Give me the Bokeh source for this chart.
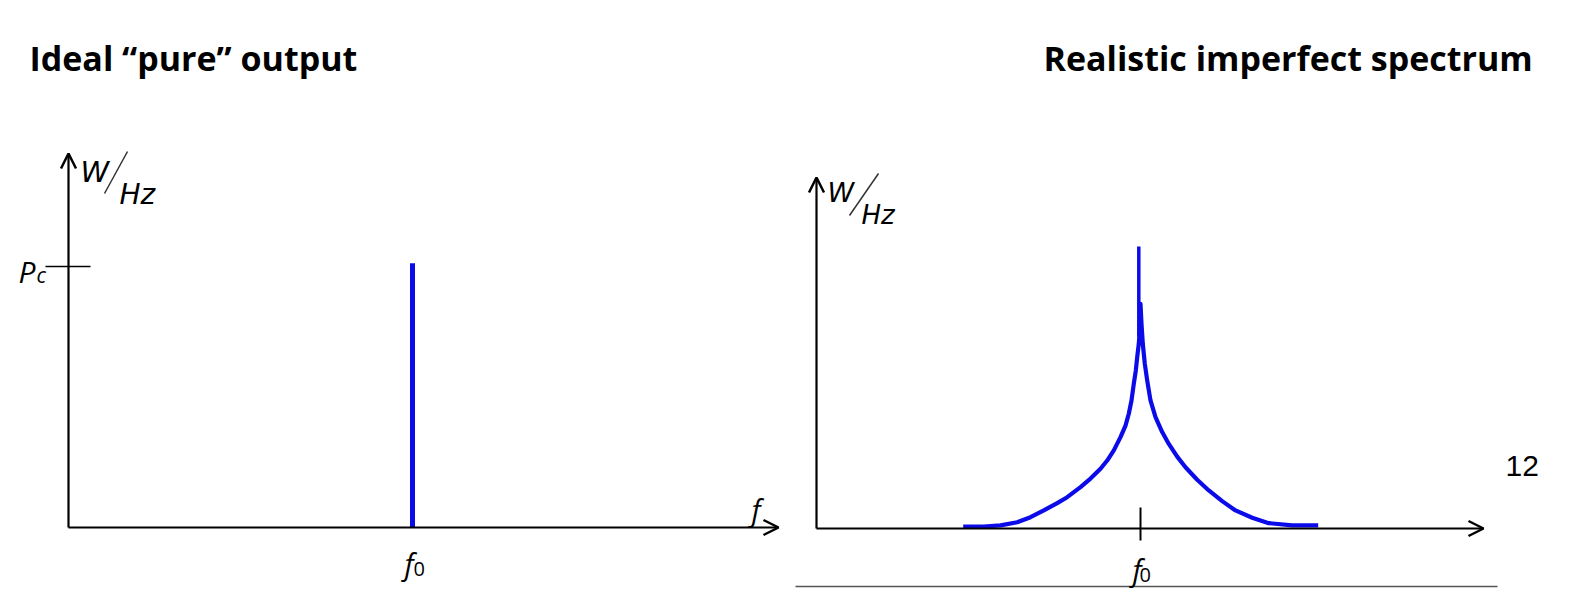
from bokeh.plotting import figure
from bokeh.models import Range1d, Arrow, OpenHead
from bokeh.core.properties import value
from bokeh.embed import file_html
from bokeh.resources import INLINE

# ---------------- data ----------------
titles = ["Ideal \u201cpure\u201d output", "Realistic imperfect spectrum"]
slide_number = "12"

# left panel: ideal single spectral line at f0 with power Pc (normalised units)
ideal_f = [1.0]          # f0
ideal_p = [1.0]          # Pc

# right panel: realistic spectrum, offset from f0 (arbitrary units) vs normalised power density
real_df = [-1.773, -1.567, -1.400, -1.233, -1.100, -0.967, -0.833, -0.733, -0.600, -0.500,
           -0.400, -0.333, -0.267, -0.200, -0.150, -0.117, -0.090, -0.067, -0.047, -0.033,
           -0.017, -0.007, 0.000, 0.010, 0.023, 0.043, 0.067, 0.100, 0.150, 0.217,
           0.283, 0.367, 0.450, 0.567, 0.683, 0.817, 0.950, 1.117, 1.283, 1.517, 1.777]
real_a = [0.007, 0.007, 0.011, 0.022, 0.040, 0.064, 0.090, 0.111, 0.147, 0.177,
          0.212, 0.241, 0.277, 0.324, 0.365, 0.407, 0.454, 0.513, 0.560, 0.607,
          0.655, 0.702, 0.797, 0.726, 0.655, 0.584, 0.525, 0.454, 0.395, 0.342,
          0.300, 0.255, 0.217, 0.173, 0.135, 0.097, 0.064, 0.038, 0.019, 0.011, 0.011]
spike_df = [-0.017, -0.017]
spike_a = [1.0, 0.68]
real_f0 = [0.0]

# ---------------- layout (page pixels) ----------------
W, H = 1594, 600
OX, OY = 0, 0
BLUE = "#0b0bea"

# panel origins / scales in page pixels
L = dict(x0=68, xu=344.0, y0=527, yu=261.0)
R = dict(x0=1140, xu=100.0, y0=528, yu=282.0)


def xr(c):
    return Range1d((OX - c["x0"]) / c["xu"], (OX + W - c["x0"]) / c["xu"])


def yr(c):
    return Range1d((c["y0"] - (OY + H)) / c["yu"], (c["y0"] - OY) / c["yu"])


def dx(c, px):
    return (px - c["x0"]) / c["xu"]


def dy(c, py):
    return (c["y0"] - py) / c["yu"]


def px(c, x):
    return c["x0"] + x * c["xu"]


def py(c, y):
    return c["y0"] - y * c["yu"]


p = figure(width=W, height=H, output_backend="svg", toolbar_location=None,
           x_range=Range1d(OX, OX + W), y_range=Range1d(OY + H, OY),
           x_axis_type=None, y_axis_type=None, min_border=0,
           background_fill_color="white", border_fill_color="white")
p.grid.visible = False
p.outline_line_color = None
p.extra_x_ranges = {"fL": xr(L), "fR": xr(R)}
p.extra_y_ranges = {"pL": yr(L), "pR": yr(R)}

# ---- titles & slide furniture ----
TT = dict(text_font=value("Open Sans"), text_font_style="bold", text_font_size="34px",
          text_color="black", text_baseline="alphabetic")
p.text(x=[29], y=[57], text=[titles[0]], **TT)
p.text(x=[1043], y=[57], text=[titles[1]], **TT)
p.text(x=[1505], y=[465], text=[slide_number], text_font=value("Liberation Sans"),
       text_font_size="30px", text_color="black", text_baseline="alphabetic")
p.segment(x0=[795], y0=[586], x1=[1497], y1=[586], line_color="#555555", line_width=1.5)

AX = dict(line_color="black", line_width=2.2)


def head():
    return OpenHead(size=15, line_width=2.5, line_color="black")


# ---- left panel axes ----
p.add_layout(Arrow(end=head(), x_start=0, y_start=0, x_end=dx(L, 778), y_end=0,
                   x_range_name="fL", y_range_name="pL", **AX))
p.add_layout(Arrow(end=head(), x_start=0, y_start=0, x_end=0, y_end=dy(L, 153),
                   x_range_name="fL", y_range_name="pL", **AX))
# Pc tick
p.segment(x0=[dx(L, 45)], y0=ideal_p, x1=[dx(L, 90)], y1=ideal_p,
          x_range_name="fL", y_range_name="pL", line_color="black", line_width=1.3)

# ideal line
p.segment(x0=ideal_f, y0=[0], x1=ideal_f, y1=[v * 1.012 for v in ideal_p],
          x_range_name="fL", y_range_name="pL", line_color=BLUE, line_width=5)

# ---- right panel axes ----
p.add_layout(Arrow(end=head(), x_start=dx(R, 816), y_start=0, x_end=dx(R, 1483), y_end=0,
                   x_range_name="fR", y_range_name="pR", **AX))
p.add_layout(Arrow(end=head(), x_start=dx(R, 816), y_start=0, x_end=dx(R, 816), y_end=dy(R, 177),
                   x_range_name="fR", y_range_name="pR", **AX))
p.segment(x0=real_f0, y0=[dy(R, 507)], x1=real_f0, y1=[dy(R, 540)],
          x_range_name="fR", y_range_name="pR", line_color="black", line_width=2)

# realistic spectrum
p.line(real_df, real_a, x_range_name="fR", y_range_name="pR", line_color=BLUE,
       line_width=4.2, line_join="round", line_cap="butt")
p.line(spike_df, spike_a, x_range_name="fR", y_range_name="pR", line_color=BLUE,
       line_width=3.5)

# ---- italic labels ----
IT = dict(text_font=value("Open Sans"), text_font_style="italic", text_color="black",
          text_baseline="alphabetic")
UN = dict(text_font=value("DejaVu Sans"), text_font_style="italic", text_color="black",
          text_baseline="alphabetic")

# left W/Hz
p.text(x=[80], y=[171], text=["W"], text_font_size="29px", **UN)
p.segment(x0=[104], y0=[193], x1=[127], y1=[151], line_color="#333333", line_width=1.5)
p.text(x=[119], y=[194], text=["Hz"], text_font_size="28px", **UN)
# Pc
p.text(x=[18], y=[py(L, ideal_p[0]) + 5], text=["P"], text_font_size="30px", **IT)
p.text(x=[36], y=[py(L, ideal_p[0]) + 8], text=["c"], text_font_size="21px", **IT)
# f (axis)
p.text(x=[751], y=[509], text=["f"], text_font_size="29px", **IT)
# f0 left
x0L = px(L, ideal_f[0])
p.text(x=[x0L + 1], y=[563], text=["f"], text_font_size="29px", text_align="right", **IT)
p.text(x=[x0L + 1], y=[568], text=["0"], text_font_size="20px",
       text_font=value("Open Sans"), text_color="black", text_baseline="alphabetic")

# right W/Hz
p.text(x=[827], y=[192], text=["W"], text_font_size="27px", **UN)
p.segment(x0=[849], y0=[215], x1=[878], y1=[173], line_color="#333333", line_width=1.5)
p.text(x=[861], y=[214], text=["Hz"], text_font_size="26px", **UN)
# f0 right
x0R = px(R, real_f0[0])
p.text(x=[x0R + 1], y=[569], text=["f"], text_font_size="29px", text_align="right", **IT)
p.text(x=[x0R - 1], y=[574], text=["0"], text_font_size="20px",
       text_font=value("Open Sans"), text_color="black", text_baseline="alphabetic")

open("out.html", "w").write(file_html(p, INLINE))
